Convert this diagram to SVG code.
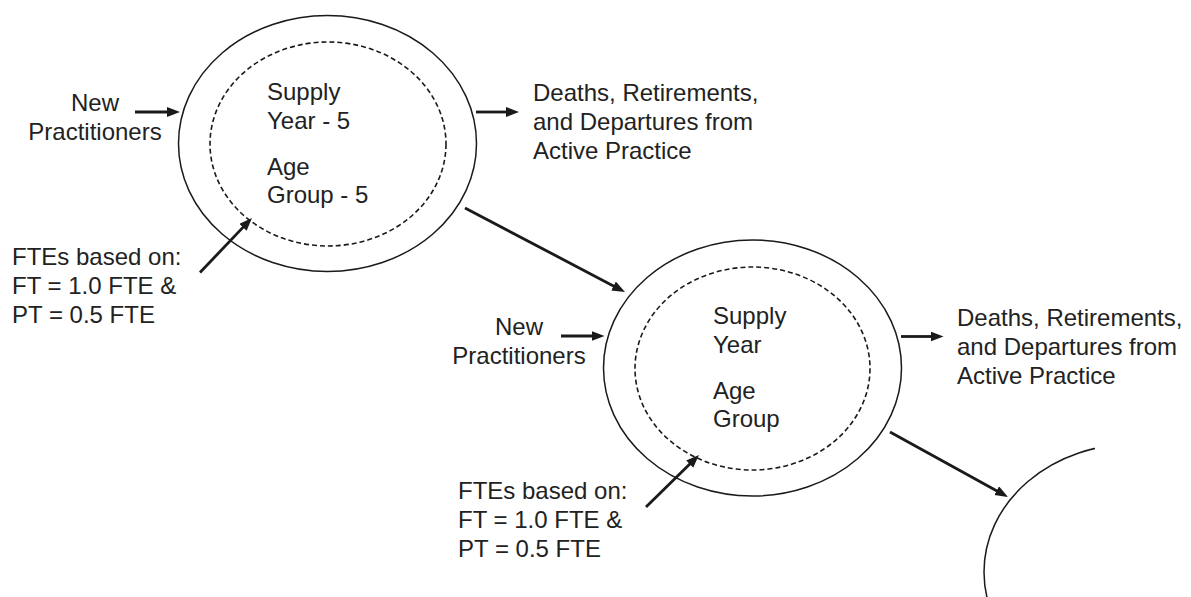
<svg xmlns="http://www.w3.org/2000/svg" width="1191" height="597" viewBox="0 0 1191 597">
  <style>
    .outer { fill: none; stroke: #1a1a1a; stroke-width: 1.5; }
    .inner { fill: none; stroke: #1a1a1a; stroke-width: 1.6; stroke-dasharray: 5 3; }
    .lbl { font-family: "Liberation Sans", Arial, sans-serif; font-size: 24px; fill: #222; }
    .mid { text-anchor: middle; }
    .conn { stroke: #1a1a1a; stroke-width: 2.8; fill: none; marker-end: url(#arrow); }
  </style>
  <defs>
    <marker id="arrow" markerUnits="userSpaceOnUse" markerWidth="14" markerHeight="11" refX="2" refY="5" orient="auto">
      <path d="M0,0 L13,5 L0,10 z" fill="#1a1a1a"/>
    </marker>
    <clipPath id="clip3"><rect x="0" y="0" width="1095" height="597"/></clipPath>
  </defs>
  <rect width="1191" height="597" fill="#fff"/>

  <g id="node-supply-1">
    <ellipse class="outer" cx="327.5" cy="143.5" rx="149" ry="128"/>
    <ellipse class="inner" cx="328" cy="144" rx="118" ry="102"/>
    <text class="lbl" x="267" y="100">Supply</text>
    <text class="lbl" x="267" y="129">Year - 5</text>
    <text class="lbl" x="267" y="175">Age</text>
    <text class="lbl" x="267" y="203">Group - 5</text>
  </g>

  <g id="node-supply-2">
    <ellipse class="outer" cx="752.5" cy="368" rx="149" ry="128"/>
    <ellipse class="inner" cx="752.5" cy="368.5" rx="117.5" ry="101.5"/>
    <text class="lbl" x="713" y="324">Supply</text>
    <text class="lbl" x="713" y="353">Year</text>
    <text class="lbl" x="713" y="399">Age</text>
    <text class="lbl" x="713" y="427">Group</text>
  </g>

  <g id="node-supply-3">
    <ellipse class="outer" cx="1134" cy="572" rx="150" ry="128" clip-path="url(#clip3)"/>
  </g>

  <g id="node-new-1">
    <text class="lbl mid" x="95" y="111">New</text>
    <text class="lbl mid" x="95" y="140">Practitioners</text>
  </g>
  <g id="node-new-2">
    <text class="lbl mid" x="519" y="335">New</text>
    <text class="lbl mid" x="519" y="364">Practitioners</text>
  </g>

  <g id="node-deaths-1">
    <text class="lbl" x="533" y="101">Deaths, Retirements,</text>
    <text class="lbl" x="533" y="130">and Departures from</text>
    <text class="lbl" x="533" y="159">Active Practice</text>
  </g>
  <g id="node-deaths-2">
    <text class="lbl" x="957" y="326">Deaths, Retirements,</text>
    <text class="lbl" x="957" y="355">and Departures from</text>
    <text class="lbl" x="957" y="384">Active Practice</text>
  </g>

  <g id="node-fte-1">
    <text class="lbl" x="12" y="265">FTEs based on:</text>
    <text class="lbl" x="12" y="294">FT = 1.0 FTE &amp;</text>
    <text class="lbl" x="12" y="323">PT = 0.5 FTE</text>
  </g>
  <g id="node-fte-2">
    <text class="lbl" x="458" y="499">FTEs based on:</text>
    <text class="lbl" x="458" y="528">FT = 1.0 FTE &amp;</text>
    <text class="lbl" x="458" y="557">PT = 0.5 FTE</text>
  </g>

  <g id="connectors">
    <line class="conn" x1="135" y1="112" x2="169" y2="112"/>
    <line class="conn" x1="476" y1="112" x2="508" y2="112"/>
    <line class="conn" x1="200" y1="272.5" x2="244.4" y2="225.9"/>
    <line class="conn" x1="465" y1="208" x2="615.3" y2="286.9"/>
    <line class="conn" x1="561" y1="336" x2="593.5" y2="336"/>
    <line class="conn" x1="901" y1="336.5" x2="932.5" y2="336.5"/>
    <line class="conn" x1="646" y1="507" x2="691.1" y2="462.7"/>
    <line class="conn" x1="890" y1="432" x2="998.4" y2="491.7"/>
  </g>
</svg>
